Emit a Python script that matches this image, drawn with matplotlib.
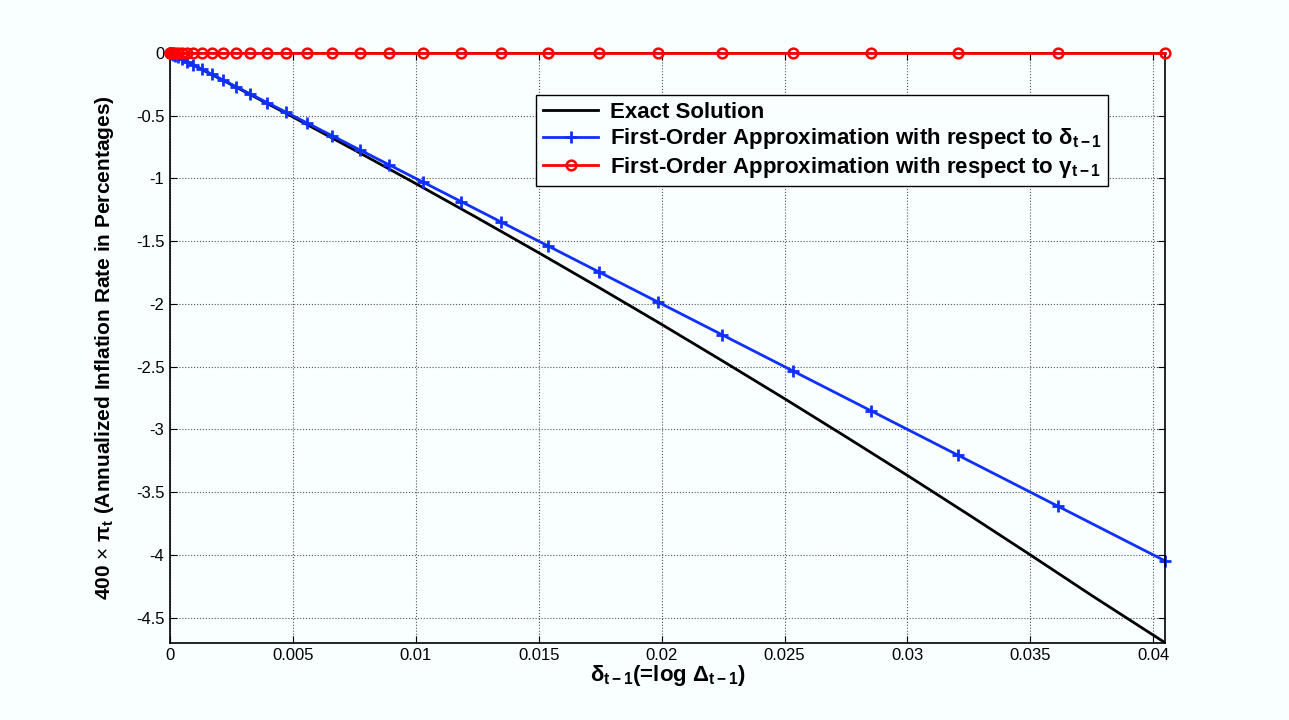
import matplotlib
matplotlib.use('Agg')
import matplotlib.pyplot as plt
import numpy as np

# ------------------------- Datos -------------------------
# delta_{t-1} values at the marker positions
delta = [0.0, 0.00001, 0.00003, 0.00007, 0.00013, 0.00022, 0.00034, 0.00050,
         0.00070, 0.00094, 0.00130, 0.00171, 0.00216, 0.00268, 0.00325,
         0.00395, 0.00472, 0.00557, 0.00659, 0.00773, 0.00891, 0.01029,
         0.01184, 0.01346, 0.01538, 0.01745, 0.01985, 0.02245, 0.02534,
         0.02852, 0.03205, 0.03612, 0.04048]

# first-order approximation with respect to delta
aprox_delta = [0.0, -0.001, -0.003, -0.007, -0.013, -0.022, -0.034, -0.050,
               -0.070, -0.094, -0.130, -0.171, -0.216, -0.268, -0.325,
               -0.395, -0.472, -0.557, -0.659, -0.773, -0.891, -1.029,
               -1.184, -1.346, -1.538, -1.745, -1.985, -2.245, -2.534,
               -2.852, -3.205, -3.612, -4.048]

# first-order approximation with respect to gamma (flat at zero)
aprox_gamma = [0.0] * len(delta)

# exact solution
delta_exacta = [0.0, 0.0025, 0.005, 0.0075, 0.01, 0.0125, 0.015, 0.0175,
                0.02, 0.0225, 0.025, 0.0275, 0.03, 0.0325, 0.035, 0.0375,
                0.04048]
exacta = [0.0, -0.253, -0.510, -0.773, -1.041, -1.314, -1.592, -1.875,
          -2.163, -2.457, -2.755, -3.059, -3.367, -3.681, -4.000, -4.324,
          -4.700]

xticks = [0, 0.005, 0.01, 0.015, 0.02, 0.025, 0.03, 0.035, 0.04]
xtick_labels = ['0', '0.005', '0.01', '0.015', '0.02', '0.025', '0.03', '0.035', '0.04']
yticks = [0, -0.5, -1, -1.5, -2, -2.5, -3, -3.5, -4, -4.5]
ytick_labels = ['0', '-0.5', '-1', '-1.5', '-2', '-2.5', '-3', '-3.5', '-4', '-4.5']

# ------------------------- Estilo -------------------------
plt.rcParams['font.family'] = ['Liberation Sans', 'DejaVu Sans']
plt.rcParams['mathtext.fontset'] = 'custom'
plt.rcParams['mathtext.rm'] = 'Liberation Sans'
plt.rcParams['mathtext.it'] = 'Liberation Sans:italic'
plt.rcParams['mathtext.bf'] = 'Liberation Sans:bold'
plt.rcParams['axes.unicode_minus'] = False

bg = '#f9feff'
fig = plt.figure(figsize=(12.89, 7.2), dpi=100, facecolor=bg)
ax = fig.add_axes([0.1319, 0.1074, 0.7719, 0.8190])
ax.set_facecolor(bg)

ax.plot(delta_exacta, exacta, color='black', lw=2, label='Exact Solution')
ax.plot(delta, aprox_delta, color='#1030ff', lw=2, marker='+', ms=8, mew=2,
        clip_on=False,
        label=r'First-Order Approximation with respect to $\mathbf{\delta_{t-1}}$')
ax.plot(delta, aprox_gamma, color='#ff0000', lw=2, marker='o', ms=7, mew=1.8,
        mfc='none', clip_on=False, zorder=5,
        label=r'First-Order Approximation with respect to $\mathbf{\gamma_{t-1}}$')

ax.set_xlim(0, 0.04048)
ax.set_ylim(-4.7, 0)
ax.set_xticks(xticks)
ax.set_xticklabels(xtick_labels)
ax.set_yticks(yticks)
ax.set_yticklabels(ytick_labels)
ax.tick_params(direction='in', top=True, right=True, length=5, width=0.8,
               labelsize=12, pad=4)
ax.grid(True, linestyle=':', color='#555555', linewidth=0.8)
for s in ax.spines.values():
    s.set_linewidth(1.2)

ax.set_xlabel(r'$\mathbf{\delta_{t-1}}$(=log $\mathbf{\Delta_{t-1}}$)',
              fontsize=16, fontweight='bold', labelpad=0)
ax.set_ylabel(r'400 $\times$ $\mathbf{\pi_t}$ (Annualized Inflation Rate in Percentages)',
              fontsize=15, fontweight='bold', labelpad=14)

leg = ax.legend(loc='upper left', bbox_to_anchor=(0.368, 0.928), fancybox=False,
                framealpha=1, edgecolor='black', prop={'weight': 'bold', 'size': 16},
                handlelength=2.5, borderpad=0.3, labelspacing=0.15, handletextpad=0.5,
                borderaxespad=0)
leg.get_frame().set_linewidth(1.0)
leg.get_frame().set_facecolor(bg)

plt.savefig('out.png', dpi=100, facecolor=bg)
